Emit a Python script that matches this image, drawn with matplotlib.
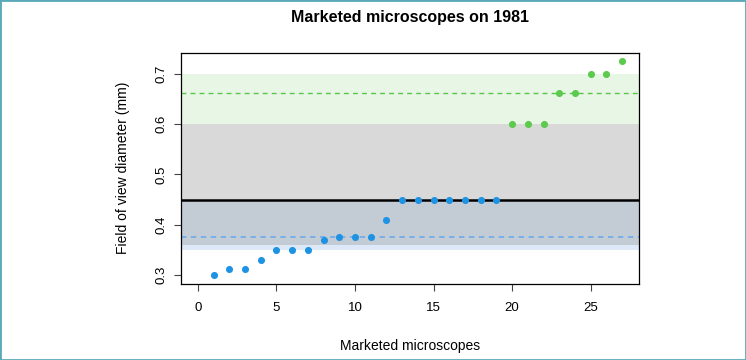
import numpy as np
import matplotlib
matplotlib.use('Agg')
import matplotlib.pyplot as plt
from matplotlib.patches import Rectangle

plt.rcParams['font.family'] = ['Liberation Sans', 'DejaVu Sans']

# field of view diameter (mm), sorted, one per marketed microscope
fov_blue = [0.30, 0.3125, 0.3125, 0.33, 0.35, 0.35, 0.35, 0.37, 0.375, 0.375,
            0.375, 0.41, 0.45, 0.45, 0.45, 0.45, 0.45, 0.45, 0.45]
fov_green = [0.60, 0.60, 0.60, 0.6625, 0.6625, 0.70, 0.70, 0.725]
title = 'Marketed microscopes on 1981'
xlabel = 'Marketed microscopes'
ylabel = 'Field of view diameter (mm)'
xticks = [0, 5, 10, 15, 20, 25]
yticks = [0.3, 0.4, 0.5, 0.6, 0.7]

blue = '#1f93e3'
green = '#5cc94f'

allv = np.array(fov_blue + fov_green)
n_b = len(fov_blue)
x_b = np.arange(1, n_b + 1)
x_g = np.arange(n_b + 1, len(allv) + 1)

q_all = np.percentile(allv, [25, 50, 75])
q_b = np.percentile(fov_blue, [25, 50, 75])
q_g = np.percentile(fov_green, [25, 50, 75])

fig = plt.figure(figsize=(7.46, 3.6), dpi=100)
ax = fig.add_axes([0.2426, 0.2125, 0.614, 0.6411])

xmin, xmax = 0 - 0.04 * 27, 27 + 0.04 * 27
rng = allv.max() - allv.min()
ax.set_xlim(xmin, xmax)
ax.set_ylim(allv.min() - 0.04 * rng, allv.max() + 0.04 * rng)

# bands (interquartile ranges)
ax.axhspan(q_b[0], q_b[2], color='#dde9f8', lw=0, zorder=1)
ax.axhspan(q_all[0], q_all[2], color='#939393', alpha=0.35, lw=0, zorder=2)
ax.axhspan(q_g[0], q_g[2], color='#e8f6e5', lw=0, zorder=2)

# medians
ax.axhline(q_all[1], color='black', lw=1.8, zorder=3)
ax.axhline(q_b[1], color='#62a8ee', lw=1.1, ls=(0, (3.5, 3)), zorder=3)
ax.axhline(q_g[1], color='#55c848', lw=1.0, ls=(0, (3.5, 3)), zorder=3)

ax.scatter(x_b, fov_blue, s=26, color=blue, lw=0, zorder=4)
ax.scatter(x_g, fov_green, s=26, color=green, lw=0, zorder=4)

ax.set_xticks(xticks)
ax.set_yticks(yticks)
ax.set_yticklabels([str(v) for v in yticks], rotation=90, va='center')
ax.tick_params(direction='out', length=5, width=0.8, labelsize=9.5, pad=5, color='#444444')
ax.tick_params(axis='x', pad=8)
for s in ax.spines.values():
    s.set_linewidth(0.9)
    s.set_zorder(5)

ax.set_title(title, fontsize=11.5, fontweight='bold', pad=22)
ax.set_xlabel(xlabel, fontsize=10, labelpad=18)
ax.set_ylabel(ylabel, fontsize=10, labelpad=18)

# frame round the whole picture
fig.patches.append(Rectangle((0, 0), 1, 1, transform=fig.transFigure, fill=False,
                             edgecolor='#5aa9b9', lw=2, zorder=10))

fig.savefig('out.png', dpi=100)
